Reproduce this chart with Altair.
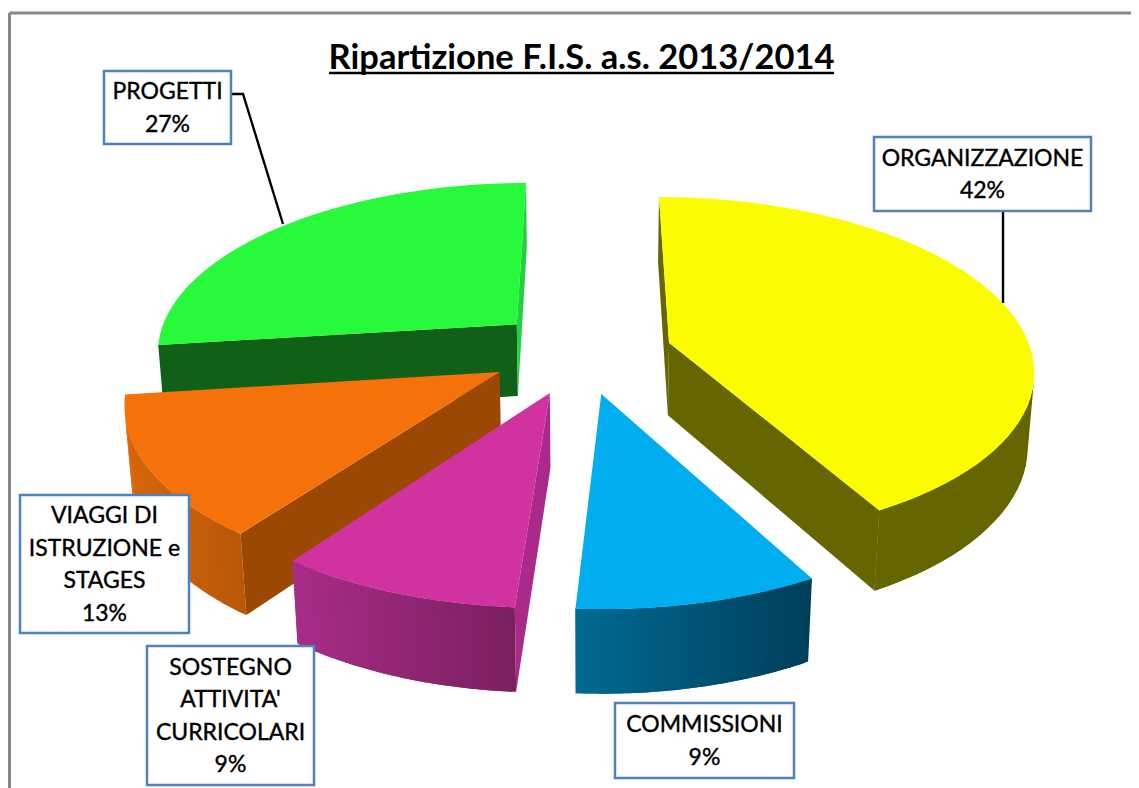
import math
import altair as alt
import pandas as pd

# --- chart values ---
NAMES = ["ORGANIZZAZIONE", "COMMISSIONI", "SOSTEGNO ATTIVITA' CURRICOLARI", "VIAGGI DI ISTRUZIONE e STAGES", "PROGETTI"]
VALUES = [42, 9, 9, 13, 27]
LABEL_LINES = [
    ["ORGANIZZAZIONE"],
    ["COMMISSIONI"],
    ["SOSTEGNO", "ATTIVITA'", "CURRICOLARI"],
    ["VIAGGI DI", "ISTRUZIONE e", "STAGES"],
    ["PROGETTI"],
]
TITLE = "Ripartizione F.I.S. a.s. 2013/2014"

# --- styles (slice order follows VALUES) ---
TOP = ["#fcfc00", "#00aeef", "#d033a0", "#f47209", "#26fa3a"]
RIM_L = ["#666600", "#006a92", "#a82c88", "#d8660a", "#106018"]
RIM_R = ["#666600", "#003f5a", "#7a2060", "#b85808", "#106018"]
WALL_START = ["#666600", "#006a92", "#aa2a8a", "#9c4805", "#106018"]
WALL_END = ["#666600", "#0090c8", "#aa2a8a", "#c05c08", "#22d040"]
EXPLODE = [(0.22, -0.16), (0.03, 0.134), (-0.107, 0.129), (-0.245, 0.0115), (-0.207, -0.272)]
PAINT_ORDER = [4, 3, 0, 2, 1]
BOXES = [(874, 137, 1091, 211), (615, 703, 794, 778), (147, 646, 314, 785), (20, 495, 189, 633), (104, 71, 231, 144)]
LEADERS = [[(1003, 211), (1003, 303)], [(231, 94), (243, 94), (283, 224)]]

CX, CY, R, RS, K, DEPTH, M = 590, 370, 368, 175, 0.15, 75, 0.015
W, H = 1123, 780


def proj(X, Z, h=0.0):
    f = 1 / (1 - K * Z + M * h)
    return CX + R * X * f, CY + RS * Z * f + DEPTH * h * f


def mix(a, b, t):
    ca = [int(a[i:i + 2], 16) for i in (1, 3, 5)]
    cb = [int(b[i:i + 2], 16) for i in (1, 3, 5)]
    return "#%02x%02x%02x" % tuple(round(p + (q - p) * t) for p, q in zip(ca, cb))


def area(pts):
    return sum(pts[i][0] * pts[(i + 1) % len(pts)][1] - pts[(i + 1) % len(pts)][0] * pts[i][1]
               for i in range(len(pts)))


rows = []
pid = 0


def poly(points, color):
    global pid
    pid += 1
    for i, (x, y) in enumerate(points):
        rows.append({"pid": pid, "i": i, "x": x, "y": y, "c": color})


starts = [sum(VALUES[:i]) for i in range(len(VALUES))]
for s in PAINT_ORDER:
    a0 = starts[s] / sum(VALUES) * 2 * math.pi
    a1 = (starts[s] + VALUES[s]) / sum(VALUES) * 2 * math.pi
    ox, oz = EXPLODE[s]
    n = 60
    angles = [a0 + (a1 - a0) * j / n for j in range(n + 1)]
    rim = [(ox + math.sin(a), oz - math.cos(a)) for a in angles]
    # outer wall: only strips that face the viewer, shaded left to right on the screen
    xs = [proj(*p)[0] for p in rim]
    lo, hi = min(xs), max(xs)
    for j in range(n):
        p, q = rim[j], rim[j + 1]
        if area([proj(*p), proj(*q), proj(*q, 1), proj(*p, 1)]) >= 0:
            continue
        t = ((xs[j] + xs[j + 1]) / 2 - lo) / (hi - lo)
        q2 = rim[min(j + 2, n)]   # overlap the next strip so no seams show
        poly([proj(*p), proj(*q), proj(*q2), proj(*q2, 1), proj(*q, 1), proj(*p, 1)],
             mix(RIM_L[s], RIM_R[s], t))
    # radial walls: only the ones that face the viewer
    wall = [proj(ox, oz), proj(*rim[0]), proj(*rim[0], 1), proj(ox, oz, 1)]
    if area(wall) < 0:
        poly(wall, WALL_START[s])
    wall = [proj(ox, oz), proj(*rim[-1]), proj(*rim[-1], 1), proj(ox, oz, 1)]
    if area(wall) > 0:
        poly(wall, WALL_END[s])
    # top face
    poly([proj(ox, oz)] + [proj(*p) for p in rim], TOP[s])

xs_scale = alt.Scale(domain=[8, 8 + W], nice=False, zero=False)
ys_scale = alt.Scale(domain=[8, 8 + H], nice=False, zero=False, reverse=True)
X = lambda f: alt.X(f, scale=xs_scale, axis=None)
Y = lambda f: alt.Y(f, scale=ys_scale, axis=None)

# frame of the picture
frame = alt.Chart(pd.DataFrame([
    {"x": 9.5, "y": 13, "x2": 9.5, "y2": 788},
    {"x": 9.5, "y": 13, "x2": 1131, "y2": 13},
])).mark_rule(color="#888888", strokeWidth=3).encode(X("x:Q"), Y("y:Q"), x2="x2:Q", y2="y2:Q")

slices = alt.Chart(pd.DataFrame(rows)).mark_line(strokeWidth=0).encode(
    X("x:Q"), Y("y:Q"),
    detail="pid:N",
    order="i:Q",
    fill=alt.Fill("c:N", scale=None),
)

lead_rows = [{"l": n, "i": i, "x": p[0], "y": p[1]} for n, l in enumerate(LEADERS) for i, p in enumerate(l)]
leaders = alt.Chart(pd.DataFrame(lead_rows)).mark_line(color="#000000", strokeWidth=2.4).encode(
    X("x:Q"), Y("y:Q"), detail="l:N", order="i:Q"
)

boxes = alt.Chart(pd.DataFrame([
    {"x": b[0], "y": b[1], "x2": b[2], "y2": b[3]} for b in BOXES
])).mark_rect(fill="#ffffff", stroke="#4f81bd", strokeWidth=2.5).encode(X("x:Q"), Y("y:Q"), x2="x2:Q", y2="y2:Q")

LINE_H = 32.5
text_rows = []
for s, lines in enumerate(LABEL_LINES):
    all_lines = lines + [f"{VALUES[s]}%"]
    b = BOXES[s]
    mid = (b[1] + b[3]) / 2 + 1
    for i, t in enumerate(all_lines):
        text_rows.append({"x": (b[0] + b[2]) / 2, "y": mid + (i - (len(all_lines) - 1) / 2) * LINE_H, "t": t})
texts = alt.Chart(pd.DataFrame(text_rows)).mark_text(
    font="Lato", fontSize=23, color="#000000", stroke="#000000", strokeWidth=0.4,
    align="center", baseline="middle"
).encode(X("x:Q"), Y("y:Q"), text="t:N")

underline = alt.Chart(pd.DataFrame([{"x": 329, "x2": 834, "y": 73}])).mark_rule(
    color="#000000", strokeWidth=2.5
).encode(X("x:Q"), x2="x2:Q", y=Y("y:Q"))

chart = alt.layer(frame, leaders, slices, boxes, texts, underline).properties(
    width=W, height=H, padding=0,
    autosize=alt.AutoSizeParams(type="none"),
    title=alt.TitleParams(TITLE, font="Lato", fontSize=34.5, fontWeight="bold", color="#000000",
                          anchor="middle", baseline="middle", dx=12, dy=85, offset=0),
).configure_view(stroke=None)

chart.save("out.html", embed_options={"renderer": "svg", "actions": False})
